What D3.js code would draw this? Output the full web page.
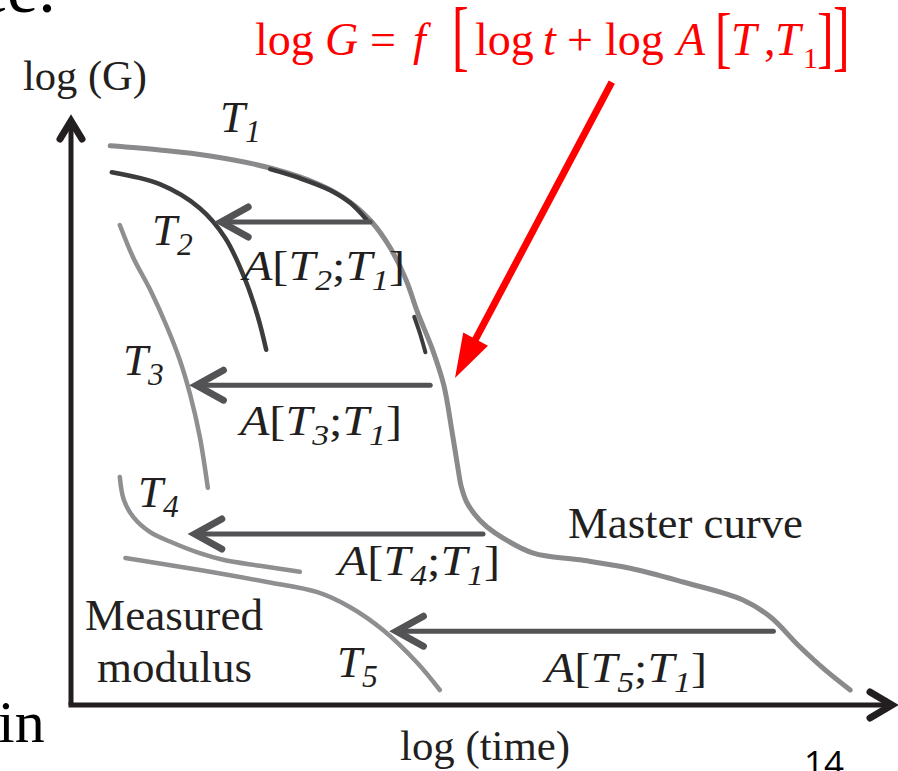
<!DOCTYPE html>
<html>
<head>
<meta charset="utf-8">
<script src="https://cdn.jsdelivr.net/npm/d3@7/dist/d3.min.js"></script>
<style>
  html, body { margin: 0; padding: 0; background: #ffffff; }
  svg { display: block; }
</style>
</head>
<body>
<script>
// Time–temperature superposition: measured modulus curves at T1..T5 shifted
// along log(time) by A[Ti;T1] to build the master curve at T1.

// ---- data (log time, log G) in arbitrary schematic units ----
const curveNames = ["T1", "T2", "T3", "T4", "T5"];

// reference temperature T1 continued by the shifted segments = master curve
const masterCurve = [
  [0.49, 9.32], [1.11, 9.25], [1.74, 9.15], [2.49, 8.95], [3.11, 8.67],
  [3.49, 8.38], [3.76, 8.05], [3.99, 7.62], [4.19, 7.08], [4.33, 6.55],
  [4.52, 5.92], [4.66, 5.33], [4.76, 4.58], [4.84, 3.92], [4.88, 3.63],
  [4.95, 3.37], [5.11, 3.08], [5.30, 2.87], [5.78, 2.53], [6.36, 2.42],
  [6.99, 2.28], [7.65, 2.05], [8.40, 1.75], [8.74, 1.47], [9.11, 0.97],
  [9.43, 0.58], [9.74, 0.25]
];

// T2 data after shifting, where it sits on the master curve
const shiftedT2Upper = [[2.49, 8.93], [2.86, 8.78], [3.24, 8.58], [3.49, 8.37], [3.70, 8.08]];
const shiftedT2Lower = [[4.29, 6.47], [4.36, 6.20], [4.43, 5.88]];

const curveT2 = [[0.51, 8.88], [1.11, 8.68], [1.61, 8.28], [1.93, 7.78], [2.18, 7.08], [2.34, 6.45], [2.44, 5.92]];
const curveT3 = [[0.61, 8.00], [0.78, 7.45], [0.99, 6.92], [1.20, 6.30], [1.36, 5.75], [1.49, 5.17], [1.61, 4.47], [1.71, 3.62]];
const curveT4 = [[0.61, 3.80], [0.66, 3.42], [0.78, 3.13], [0.99, 2.88], [1.28, 2.70], [1.61, 2.53], [1.90, 2.42], [2.36, 2.32], [2.86, 2.22]];
const curveT5 = [[0.68, 2.45], [1.61, 2.25], [2.45, 2.05], [3.08, 1.88], [3.49, 1.63], [3.90, 1.25], [4.33, 0.70], [4.61, 0.25]];

// horizontal shift factors: level in log G, start and end in log time
const shiftLabels = ["2", "3", "4", "5"];
const shiftLevels = [8.05, 5.33, 2.85, 1.23];
const shiftFrom   = [3.74, 4.49, 5.15, 8.78];
const shiftTo     = [1.84, 1.53, 1.51, 4.03];

// pointer from the formula to the master curve
const pointer = [[6.76, 10.38], [4.80, 5.45]];

// ---- layout ----
const W = 898, H = 771;
const INK = "#231f20";
const svg = d3.select("body").append("svg").attr("width", W).attr("height", H);

const x = d3.scaleLinear().domain([0, 10]).range([71, 871]);
const y = d3.scaleLinear().domain([0, 10]).range([705, 105]);

const line = d3.line().x(d => x(d[0])).y(d => y(d[1])).curve(d3.curveCatmullRom.alpha(0.5));

// axes with arrow heads
const ax = svg.append("g").attr("stroke", INK).attr("fill", "none");
ax.append("line").attr("x1", x(0)).attr("y1", y(0)).attr("x2", x(0)).attr("y2", 124).attr("stroke-width", 5);
ax.append("line").attr("x1", x(0) - 2.5).attr("y1", y(0)).attr("x2", 890).attr("y2", y(0)).attr("stroke-width", 5);
ax.append("path").attr("d", `M${x(0) - 11},139 L${x(0)},121 L${x(0) + 11},139`)
  .attr("stroke-width", 7).attr("stroke-linecap", "round").attr("stroke-linejoin", "miter");
ax.append("path").attr("d", `M870,${y(0) - 13} L892,${y(0)} L870,${y(0) + 13}`)
  .attr("stroke-width", 7).attr("stroke-linecap", "round").attr("stroke-linejoin", "miter");

// measured curves
const curves = svg.append("g").attr("fill", "none").attr("stroke-linecap", "round");
curves.append("path").attr("d", line(curveT3)).attr("stroke", "#8f8f91").attr("stroke-width", 4.5);
curves.append("path").attr("d", line(curveT4)).attr("stroke", "#8f8f91").attr("stroke-width", 4.5);
curves.append("path").attr("d", line(curveT5)).attr("stroke", "#8f8f91").attr("stroke-width", 4.5);
curves.append("path").attr("d", line(curveT2)).attr("stroke", "#3c3c3e").attr("stroke-width", 4.5);
curves.append("path").attr("d", line(masterCurve)).attr("stroke", "#8a8a8c").attr("stroke-width", 5);
curves.append("path").attr("d", line(shiftedT2Upper)).attr("stroke", "#3c3c3e").attr("stroke-width", 4.5);
curves.append("path").attr("d", line(shiftedT2Lower)).attr("stroke", "#3c3c3e").attr("stroke-width", 4);

// shift arrows
const arrows = svg.append("g").attr("stroke", "#535355").attr("fill", "none").attr("stroke-linecap", "round");
shiftLevels.forEach((lv, i) => {
  const yy = y(lv), x0 = x(shiftFrom[i]), x1 = x(shiftTo[i]);
  arrows.append("line").attr("x1", x0).attr("y1", yy).attr("x2", x1 + 3).attr("y2", yy).attr("stroke-width", 5);
  arrows.append("path").attr("d", `M${x1 + 30},${yy - 15} L${x1 + 3},${yy} L${x1 + 30},${yy + 15}`)
    .attr("stroke-width", 7).attr("stroke-linejoin", "miter");
});

// red pointer
{
  const [p0, p1] = pointer.map(p => [x(p[0]), y(p[1])]);
  const dx = p0[0] - p1[0], dy = p0[1] - p1[1], len = Math.hypot(dx, dy);
  const ux = dx / len, uy = dy / len, headL = 44, headW = 14;
  const bx = p1[0] + ux * headL, by = p1[1] + uy * headL;
  svg.append("line").attr("x1", p0[0]).attr("y1", p0[1]).attr("x2", bx - ux * 2).attr("y2", by - uy * 2)
    .attr("stroke", "#ff0000").attr("stroke-width", 7);
  svg.append("path")
    .attr("d", `M${p1[0]},${p1[1]} L${bx - uy * headW},${by + ux * headW} L${bx + uy * headW},${by - ux * headW} Z`)
    .attr("fill", "#ff0000");
}

// ---- text ----
const SERIF = "'Liberation Serif', 'Times New Roman', serif";

function rich(parent, parts, px, py, size, opts = {}) {
  const t = parent.append("text").attr("x", px).attr("y", py)
    .attr("font-family", SERIF).attr("font-size", size).attr("fill", opts.fill || INK);
  let shifted = 0;
  parts.forEach(p => {
    const s = t.append("tspan").text(p.t);
    if (p.i) s.attr("font-style", "italic");
    const want = p.sub ? (opts.subDy || 10) : 0;
    if (want !== shifted) { s.attr("dy", want - shifted); shifted = want; }
    if (p.sub) s.attr("font-size", size * (opts.subScale || 0.7));
  });
  if (opts.width) t.attr("textLength", opts.width).attr("lengthAdjust", "spacingAndGlyphs");
  return t;
}

const labels = svg.append("g");

// temperature labels
const tPos = [[220, 132], [152, 245], [123, 375], [138, 507], [337, 677]];
curveNames.forEach((n, i) => {
  rich(labels, [{ t: "T", i: true }, { t: n.slice(1), i: true, sub: true }], tPos[i][0], tPos[i][1], 45, { subDy: 10 });
});

// shift-factor labels
const aPos = [[243, 280], [240, 435], [338, 575], [545, 682]];
shiftLabels.forEach((k, i) => {
  rich(labels, [
    { t: "A", i: true }, { t: "[" }, { t: "T", i: true }, { t: k, i: true, sub: true },
    { t: ";" }, { t: "T", i: true }, { t: "1", i: true, sub: true }, { t: "]" }
  ], aPos[i][0], aPos[i][1], 42, { width: 162, subDy: 10 });
});

labels.append("text").attr("x", 568).attr("y", 538).attr("font-family", SERIF).attr("font-size", 45)
  .attr("fill", INK).attr("textLength", 235).attr("lengthAdjust", "spacingAndGlyphs").text("Master curve");
labels.append("text").attr("x", 85).attr("y", 630).attr("font-family", SERIF).attr("font-size", 44)
  .attr("fill", INK).attr("textLength", 178).attr("lengthAdjust", "spacingAndGlyphs").text("Measured");
labels.append("text").attr("x", 97).attr("y", 682).attr("font-family", SERIF).attr("font-size", 44)
  .attr("fill", INK).attr("textLength", 155).attr("lengthAdjust", "spacingAndGlyphs").text("modulus");

// axis titles
labels.append("text").attr("x", 23).attr("y", 90).attr("font-family", SERIF).attr("font-size", 42)
  .attr("fill", INK).attr("textLength", 124).attr("lengthAdjust", "spacingAndGlyphs").text("log (G)");
labels.append("text").attr("x", 400).attr("y", 760).attr("font-family", SERIF).attr("font-size", 42)
  .attr("fill", INK).attr("textLength", 170).attr("lengthAdjust", "spacingAndGlyphs").text("log (time)");

// surrounding slide text
svg.append("text").attr("x", -24).attr("y", 12).attr("font-family", SERIF).attr("font-size", 70)
  .attr("fill", "#000").text("ce.");
svg.append("text").attr("x", -2).attr("y", 742).attr("font-family", SERIF).attr("font-size", 60)
  .attr("fill", "#000").text("in");
svg.append("text").attr("x", 804).attr("y", 776).attr("font-family", "'Open Sans', 'Liberation Sans', sans-serif")
  .attr("font-size", 35).attr("fill", "#000").text("14");

// shift-factor formula
const RED = "#ff0000";
const f = svg.append("g").attr("fill", RED).attr("font-family", SERIF);
const fPieces = [
  ["log", 255, false], ["G", 325, true], ["=", 370, false], ["f", 413, true],
  ["log", 475, false], ["t", 543, true], ["+", 567, false], ["log", 605, false],
  ["A", 677, true], ["T", 731, true], [",", 764, false], ["T", 775, true]
];
fPieces.forEach(([s, px, it]) => {
  f.append("text").attr("x", px).attr("y", 55).attr("font-size", 46)
    .attr("font-style", it ? "italic" : "normal").text(s);
});
f.append("text").attr("x", 803).attr("y", 68).attr("font-size", 30).text("1");
// stretched brackets: [x, baseline, glyph, vertical scale]
[[452, 62, "[", 1.55], [833, 62, "]", 1.55], [715, 60, "[", 1.34], [817, 60, "]", 1.34]].forEach(([px, by, s, k]) => {
  f.append("text").attr("transform", `translate(${px},${by}) scale(1,${k})`)
    .attr("font-size", 50).text(s);
});
</script>
</body>
</html>
